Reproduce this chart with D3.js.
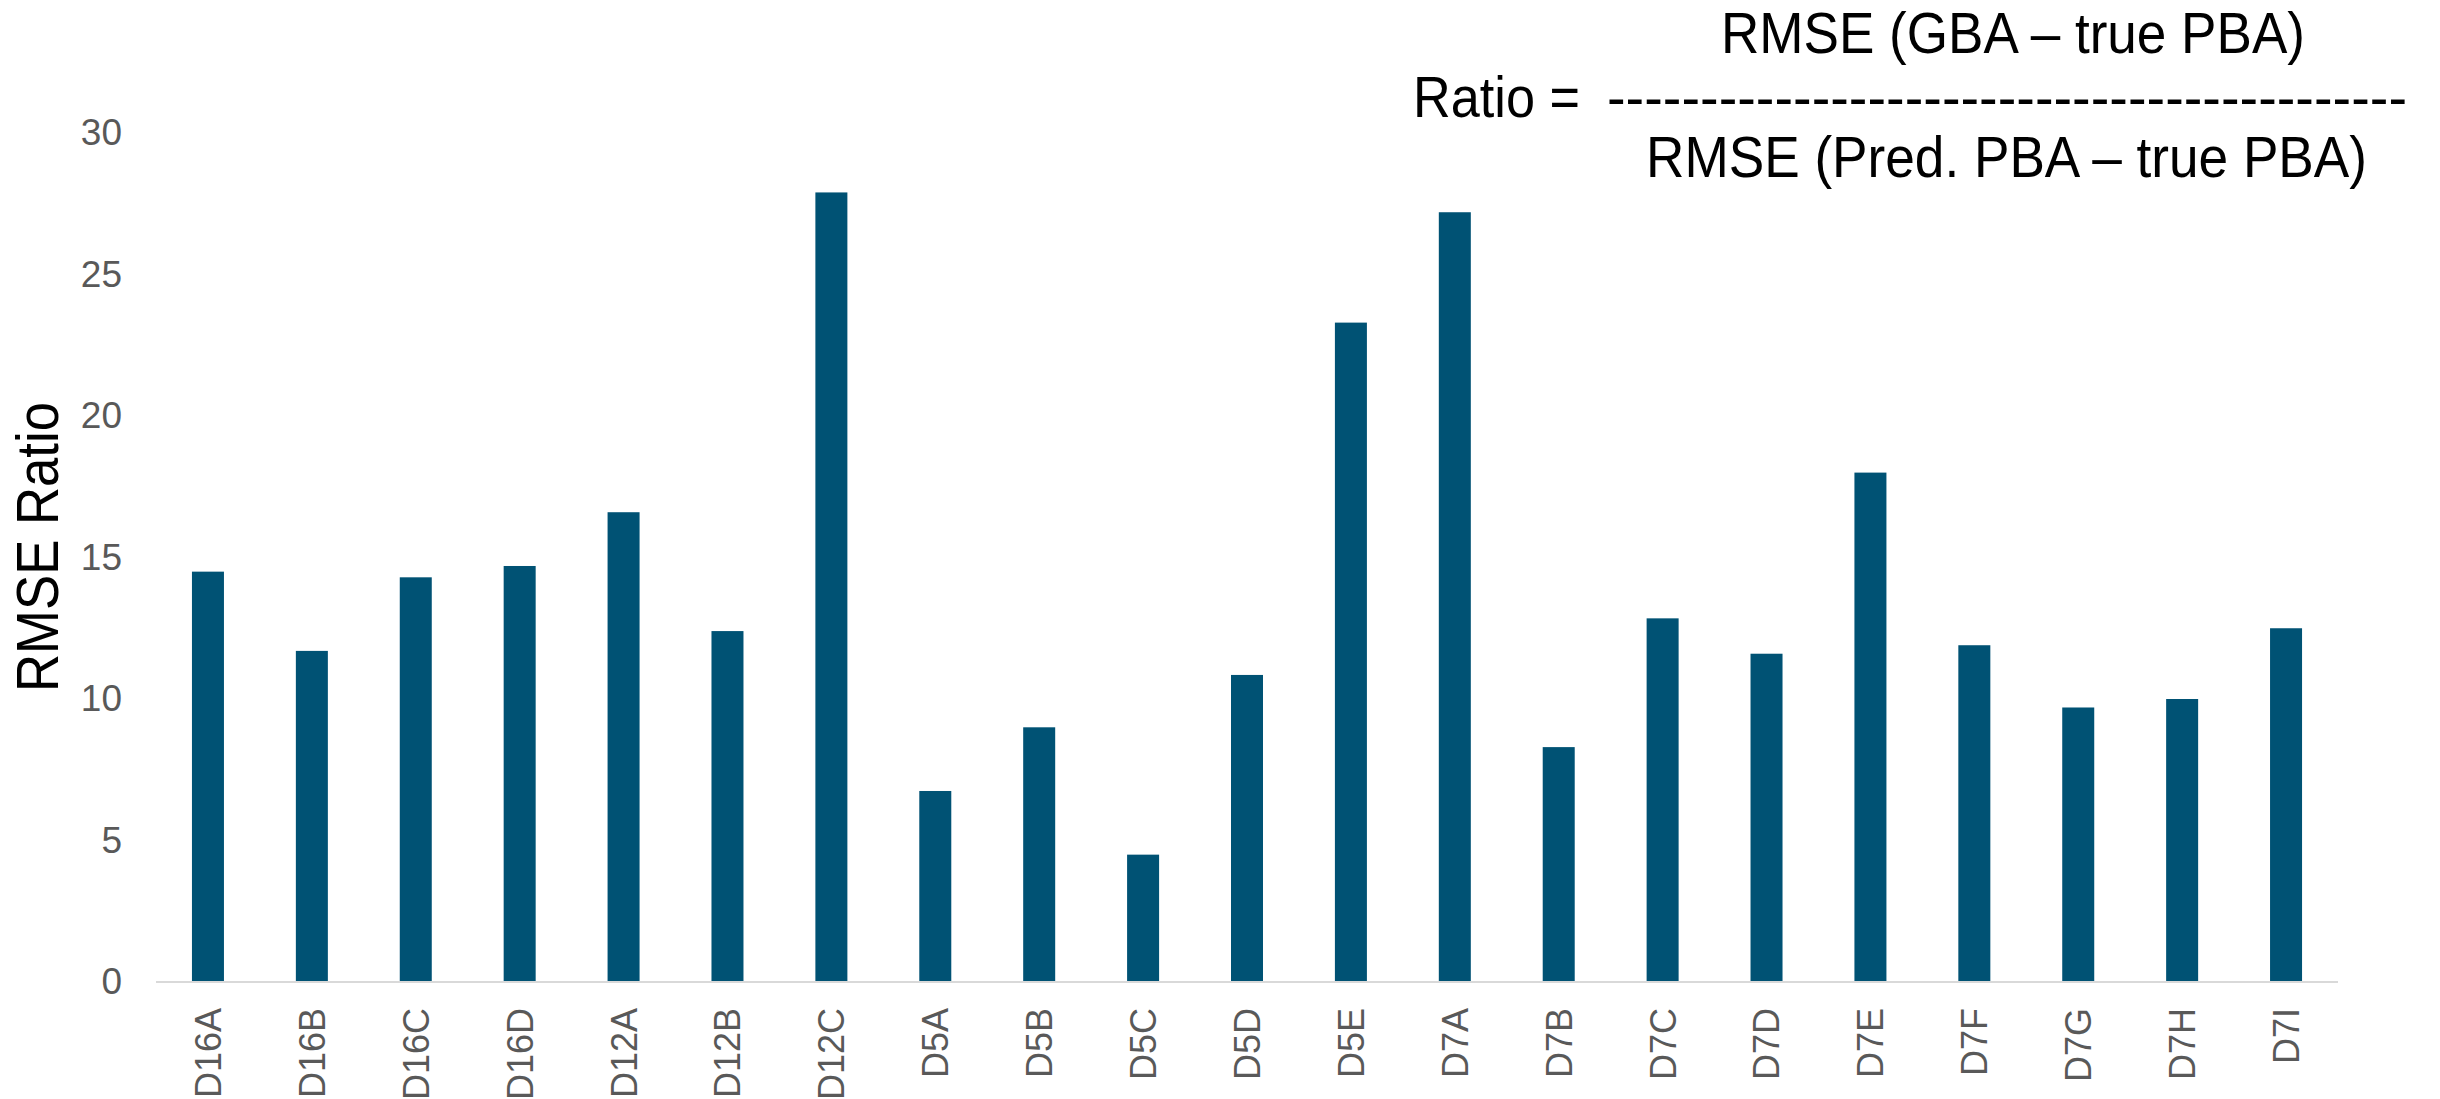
<!DOCTYPE html>
<html>
<head>
<meta charset="utf-8">
<script src="https://cdn.jsdelivr.net/npm/d3@7"></script>
<style>
  html, body { margin: 0; padding: 0; background: #ffffff; }
  svg { display: block; }
</style>
</head>
<body>
<svg id="chart" width="2440" height="1099"></svg>
<script>
const categories = ["D16A","D16B","D16C","D16D","D12A","D12B","D12C","D5A","D5B","D5C","D5D","D5E","D7A","D7B","D7C","D7D","D7E","D7F","D7G","D7H","D7I"];
const ratioValues = [14.5, 11.7, 14.3, 14.7, 16.6, 12.4, 27.9, 6.75, 9.0, 4.5, 10.85, 23.3, 27.2, 8.3, 12.85, 11.6, 18.0, 11.9, 9.7, 10.0, 12.5];
const yTicks = [0, 5, 10, 15, 20, 25, 30];
const yTitle = "RMSE Ratio";
const formulaNumerator = "RMSE (GBA \u2013 true PBA)";
const formulaLabel = "Ratio =";
const formulaDenominator = "RMSE (Pred. PBA \u2013 true PBA)";

(function () {
const svg = d3.select("#chart");
const plotLeft = 156, plotRight = 2338, plotTop = 133, plotBottom = 982;
const font = "'Liberation Sans', Arial, sans-serif";

const x = d3.scaleBand().domain(categories).range([plotLeft, plotRight])
  .paddingInner(0.692).paddingOuter(0.346);
const y = d3.scaleLinear().domain([0, 30]).range([plotBottom, plotTop]);

// bars
svg.append("g").selectAll("rect").data(categories).join("rect")
  .attr("x", d => x(d))
  .attr("width", x.bandwidth())
  .attr("y", (d, i) => y(ratioValues[i]))
  .attr("height", (d, i) => y(0) - y(ratioValues[i]))
  .attr("fill", "#005274");

// x axis line
svg.append("line")
  .attr("x1", plotLeft).attr("x2", plotRight)
  .attr("y1", y(0)).attr("y2", y(0))
  .attr("stroke", "#d9d9d9").attr("stroke-width", 2);

// y axis
const yAxis = svg.append("g")
  .attr("transform", `translate(${plotLeft},0)`)
  .call(d3.axisLeft(y).tickValues(yTicks).tickSize(0).tickPadding(34));
yAxis.select(".domain").remove();
yAxis.selectAll("text")
  .attr("font-family", font).attr("font-size", 37).attr("fill", "#595959");

// x axis labels
const xAxis = svg.append("g")
  .attr("transform", `translate(0,${plotBottom})`)
  .call(d3.axisBottom(x).tickSize(0));
xAxis.select(".domain").remove();
xAxis.selectAll("text")
  .attr("font-family", font).attr("font-size", 36).attr("fill", "#595959")
  .attr("transform", "rotate(-90)")
  .attr("text-anchor", "end")
  .attr("x", -26)
  .attr("y", 0)
  .attr("dy", "0.36em");

// y title
svg.append("text")
  .attr("transform", "translate(58,547) rotate(-90)")
  .attr("text-anchor", "middle")
  .attr("font-family", font).attr("font-size", 60).attr("fill", "#000")
  .attr("textLength", 290).attr("lengthAdjust", "spacingAndGlyphs")
  .text(yTitle);

// formula
const fg = svg.append("g").attr("font-family", font).attr("fill", "#000");
fg.append("text").attr("x", 1721).attr("y", 53).attr("font-size", 58)
  .attr("textLength", 584).attr("lengthAdjust", "spacingAndGlyphs")
  .text(formulaNumerator);
fg.append("text").attr("x", 1413).attr("y", 117).attr("font-size", 58)
  .attr("textLength", 167).attr("lengthAdjust", "spacingAndGlyphs")
  .text(formulaLabel);
fg.append("text").attr("x", 1607).attr("y", 117).attr("font-size", 58)
  .attr("textLength", 800).attr("lengthAdjust", "spacingAndGlyphs")
  .text("-".repeat(43));
fg.append("text").attr("x", 1646).attr("y", 177).attr("font-size", 58)
  .attr("textLength", 721).attr("lengthAdjust", "spacingAndGlyphs")
  .text(formulaDenominator);
})();
</script>
</body>
</html>
